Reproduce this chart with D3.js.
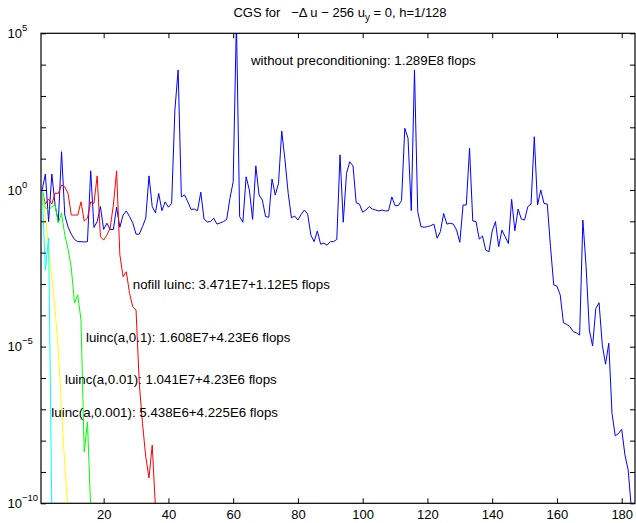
<!DOCTYPE html>
<html>
<head>
<meta charset="utf-8">
<script src="https://d3js.org/d3.v7.min.js"></script>
<style>
  body { margin: 0; background: #fff; }
  text { font-family: "Liberation Sans", Arial, Helvetica, sans-serif; fill: #000; }
</style>
</head>
<body>
<svg id="chart" width="636" height="523"></svg>
<script>
// log10 of the relative residual, one entry per iteration (starting at 1)
const unprecLog = [0.00, 0.51, -1.01, 0.51, -0.48, -1.01, 1.22, -0.80, -1.18, -1.41,
  -1.58, -1.65, -1.65, -1.66, -1.65, 0.61, -1.20, -1.01, -0.53, -1.26,
  -1.06, -1.26, -1.26, -0.55, -1.19, -0.80, -0.67, -0.85, -1.05, -1.41,
  -1.41, -1.17, -0.90, 0.45, -0.53, -0.73, -0.11, -0.66, -0.38, -0.55,
  -0.43, 2.55, 3.83, -0.22, -0.16, -0.38, -0.62, -0.61, -0.66, -0.07,
  -0.93, -1.02, -1.01, -0.90, -1.09, -1.05, -1.01, -0.94, -0.27, 0.26,
  5.40, -0.85, -1.03, 0.42, 0.00, -0.94, 0.77, -0.16, -0.32, -0.85,
  -0.87, 0.35, -0.16, 0.21, 1.88, 0.96, -0.11, -0.89, -0.83, -0.96,
  -0.78, -0.64, -0.77, -1.44, -1.65, -1.31, -1.73, -1.70, -1.76, -1.65,
  -1.65, -1.58, 1.12, -1.03, 0.53, 0.90, 0.77, -0.41, -0.45, -0.71,
  -0.64, -0.53, -0.61, -0.64, -0.67, -0.64, -0.67, -0.66, -0.22, -0.50,
  -0.50, -0.34, 1.97, 1.65, -0.66, 3.83, -0.69, -1.17, -1.19, -1.17,
  -1.14, -1.09, -1.54, -1.33, -0.75, -1.09, -1.06, -1.09, -1.28, -1.67,
  -0.48, -0.48, 1.33, -0.99, -1.01, -1.57, -1.47, -1.92, -1.97, -1.31,
  -1.01, -1.81, -1.28, -1.49, -1.71, -0.30, -1.30, -0.61, -0.93, -0.96,
  -0.53, -0.45, 1.70, -0.48, 0.00, -0.43, -0.45, -1.81, -3.03, -3.07,
  -3.35, -4.24, -4.29, -4.36, -4.52, -4.56, -4.63, -0.96, -2.45, -4.47,
  -4.98, -3.78, -3.60, -4.95, -5.56, -4.89, -7.13, -7.85, -7.77, -7.64,
  -8.46, -8.94, -10.20];
const nofillLog = [0.00, -0.45, -0.29, -0.45, -0.10, -0.11, 0.16, 0.10, -0.11, -0.80,
  -0.80, -0.80, -0.38, -0.99, -0.90, -0.38, -0.43, 0.45, -1.49, -1.60,
  -1.44, -1.22, -0.48, 0.61, -2.07, -2.77, -2.61, -3.30, -3.73, -3.83,
  -6.17, -7.45, -8.51, -9.19, -8.14, -10.15];
const luinc1Log = [0.00, -0.57, -0.64, -0.54, -0.48, -1.06, -0.74, -1.44, -1.88, -2.49,
  -3.61, -3.35, -4.15, -8.36, -7.40, -10.20];
const luinc2Log = [0.00, -0.80, -1.85, -2.81, -3.83, -5.11, -7.02, -8.78, -10.20];
const luinc3Log = [0.00, -2.56, -1.53, -10.30];

const seriesColors = ["#0000ff", "#ff0000", "#00ff00", "#ffff00", "#00ffff"];
const xTicks = [20, 40, 60, 80, 100, 120, 140, 160, 180];
const yDecades = [5, 4, 3, 2, 1, 0, -1, -2, -3, -4, -5, -6, -7, -8, -9, -10];
const yLabelExps = [5, 0, -5, -10];

const labels = [
  { text: "without preconditioning: 1.289E8 flops", iter: 65.5, exp: 4.0 },
  { text: "nofill luinc: 3.471E7+1.12E5 flops", iter: 29.0, exp: -3.17 },
  { text: "luinc(a,0.1): 1.608E7+4.23E6 flops", iter: 14.55, exp: -4.86 },
  { text: "luinc(a,0.01): 1.041E7+4.23E6 flops", iter: 8.05, exp: -6.18 },
  { text: "luinc(a,0.001): 5.438E6+4.225E6 flops", iter: 3.85, exp: -7.25 }
];

const svg = d3.select("#chart");
const plot = { left: 41, right: 635, top: 33.3, bottom: 503.3 };

const x = d3.scaleLinear().domain([0.65, 184.1]).range([plot.left, plot.right]);
const y = d3.scaleLog().domain([1e-10, 1e5]).range([plot.bottom, plot.top]);

svg.append("defs").append("clipPath").attr("id", "clip")
  .append("rect")
  .attr("x", plot.left).attr("y", plot.top)
  .attr("width", plot.right - plot.left).attr("height", plot.bottom - plot.top);

// residual curves
const line = d3.line()
  .x((d, i) => x(i + 1))
  .y(d => y(Math.pow(10, d)));

const allSeries = [unprecLog, nofillLog, luinc1Log, luinc2Log, luinc3Log];
const curves = svg.append("g").attr("clip-path", "url(#clip)");
allSeries.forEach((s, k) => {
  curves.append("path")
    .datum(s)
    .attr("d", line)
    .attr("fill", "none")
    .attr("stroke", seriesColors[k])
    .attr("stroke-width", 1);
});

// axes with inward ticks
const axStyle = g => {
  g.select(".domain").remove();
  g.selectAll(".tick line").attr("stroke", "#000").attr("stroke-width", 1);
  g.selectAll("text").style("font-size", "13px").attr("fill", "#000");
};

svg.append("g")
  .attr("transform", `translate(0,${plot.bottom})`)
  .call(d3.axisBottom(x).tickValues(xTicks).tickSizeInner(-5).tickSizeOuter(0).tickPadding(7))
  .call(axStyle)
  .call(g => g.selectAll("text").attr("y", 16).attr("dy", 0));

svg.append("g")
  .attr("transform", `translate(0,${plot.top})`)
  .call(d3.axisTop(x).tickValues(xTicks).tickSizeInner(-5).tickSizeOuter(0).tickFormat(""))
  .call(axStyle);

const decadeVals = yDecades.map(e => Math.pow(10, e));
svg.append("g")
  .attr("transform", `translate(${plot.left},0)`)
  .call(d3.axisLeft(y).tickValues(decadeVals).tickSizeInner(-5).tickSizeOuter(0).tickFormat(""))
  .call(axStyle);

svg.append("g")
  .attr("transform", `translate(${plot.right},0)`)
  .call(d3.axisRight(y).tickValues(decadeVals).tickSizeInner(-5).tickSizeOuter(0).tickFormat(""))
  .call(axStyle);

// box
svg.append("rect")
  .attr("x", plot.left).attr("y", plot.top)
  .attr("width", plot.right - plot.left).attr("height", plot.bottom - plot.top)
  .attr("fill", "none").attr("stroke", "#000").attr("stroke-width", 1.2);

// y tick labels 10^e
const yl = svg.append("g").selectAll("text")
  .data(yLabelExps)
  .join("text")
  .attr("x", 7.5)
  .attr("y", d => y(Math.pow(10, d)) + 4.7)
  .style("font-size", "13px");
yl.append("tspan").text("10");
yl.append("tspan")
  .attr("dy", -7)
  .style("font-size", "9.5px")
  .text(d => d < 0 ? "\u2212" + (-d) : d);

// title
const title = svg.append("text")
  .attr("x", 340)
  .attr("y", 17)
  .attr("text-anchor", "middle")
  .style("font-size", "13px");
title.append("tspan").text("CGS for \u00a0\u00a0\u2212\u0394 u \u2212 256 u");
title.append("tspan").attr("dy", 4).style("font-size", "10px").text("y");
title.append("tspan").attr("dy", -4).text(" = 0, h=1/128");

// annotations
svg.append("g").selectAll("text")
  .data(labels)
  .join("text")
  .attr("x", d => x(d.iter))
  .attr("y", d => y(Math.pow(10, d.exp)))
  .style("font-size", "13.3px")
  .text(d => d.text);
</script>
</body>
</html>
